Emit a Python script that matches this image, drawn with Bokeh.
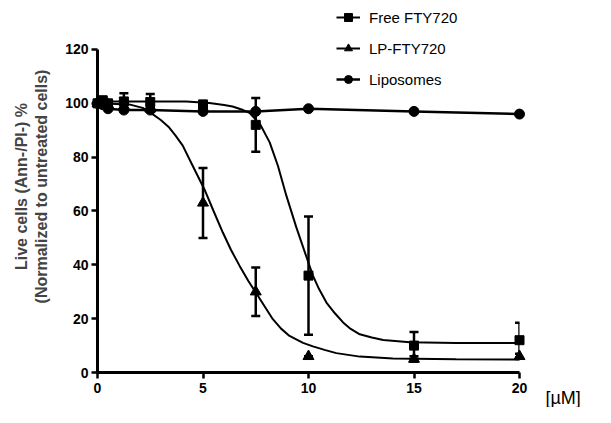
from bokeh.plotting import figure
from bokeh.models import ColumnDataSource, Whisker, Legend, LegendItem, FixedTicker
from bokeh.core.properties import value
from bokeh.embed import file_html
from bokeh.resources import INLINE

# ---- data ----
dose = [0, 0.25, 0.5, 1.25, 2.5, 5, 7.5, 10, 15, 20]

free_mean = [100, 101, 100, 100.7, 100.5, 99.5, 92, 36, 10, 12]
free_err = [1, 1.5, 1, 3, 3, 1.5, 10, 22, 5, 6.5]

lp_mean = [100, 100, 99.5, 99, 98, 63, 30, 6, 5, 6]
lp_err = [1, 1, 1, 1, 1, 13, 9, 0, 1, 1]

lipo_mean = [100, 99.5, 98, 97.5, 97.5, 97, 97, 98, 97, 96]

# fitted dose-response curves
free_fit_x = [0, 4.2, 5.3, 6.0, 6.4, 6.9, 7.2, 7.7, 8.16, 8.55, 8.95, 9.42, 9.9,
              10.21, 10.5, 10.85, 11.25, 11.64, 12.0, 12.43, 13.0, 13.54, 14.8, 17, 20]
free_fit_y = [100.7, 100.7, 100.1, 99.4, 98.8, 97.5, 96.5, 92.3, 85.5, 76.8, 65.7, 54, 43,
              36, 31, 26, 22, 18.6, 16.2, 14.2, 13, 12.1, 11.2, 11, 11]

lp_fit_x = [0, 1.5, 2.14, 2.61, 3.0, 3.4, 3.7, 4.04, 4.51, 5.07, 5.5, 5.94, 6.33, 6.73,
            7.15, 7.6, 8.31, 8.7, 9.1, 9.74, 10.21, 10.8, 11.32, 12.43, 14, 17, 20]
lp_fit_y = [100, 99.6, 98.3, 96, 93.8, 91, 88, 84.3, 76.8, 68, 60, 52, 45.5, 39.7,
            34, 28.5, 19.8, 16.3, 13.6, 11.0, 9.7, 8.3, 7.2, 5.9, 5.2, 4.9, 4.8]

x_ticks = [0, 5, 10, 15, 20]
y_ticks = [0, 20, 40, 60, 80, 100, 120]
x_unit = "[µM]"

series_names = ["Free FTY720", "LP-FTY720", "Liposomes"]

FONT = "Liberation Sans"

# frame spans the whole top of the figure so the legend above the axis stays visible;
# the y axis itself is bounded to 0..120
p = figure(width=595, height=407, output_backend="svg", toolbar_location=None,
           x_range=(0, 20), y_range=(0, 138.2),
           min_border_left=97, min_border_right=76, min_border_top=0, min_border_bottom=35)
p.outline_line_color = None
p.xgrid.visible = False
p.ygrid.visible = False
p.background_fill_color = "white"

# axes
for ax in (p.xaxis[0], p.yaxis[0]):
    ax.axis_line_width = 3
    ax.axis_line_color = "black"
    ax.major_tick_line_width = 2.5
    ax.major_tick_out = 6
    ax.major_tick_in = 0
    ax.minor_tick_out = 0
    ax.minor_tick_in = 0
    ax.major_label_text_font = FONT
    ax.major_label_text_font_style = "bold"
    ax.major_label_text_font_size = "14px"
    ax.major_label_text_color = "black"
p.xaxis[0].ticker = FixedTicker(ticks=x_ticks)
p.yaxis[0].ticker = FixedTicker(ticks=y_ticks)
p.yaxis[0].bounds = (y_ticks[0], y_ticks[-1])
p.xaxis[0].major_label_standoff = 4
p.yaxis[0].major_label_standoff = 3

p.yaxis[0].axis_label = "Live cells (Ann-/PI-) %\n(Normalized to untreated cells)"
p.yaxis[0].axis_label_text_font = FONT
p.yaxis[0].axis_label_text_font_style = "bold"
p.yaxis[0].axis_label_text_font_size = "16px"
p.yaxis[0].axis_label_standoff = 12

src = ColumnDataSource(dict(
    x=dose,
    free=free_mean, free_lo=[m - e for m, e in zip(free_mean, free_err)],
    free_hi=[m + e for m, e in zip(free_mean, free_err)],
    lp=lp_mean, lp_lo=[m - e for m, e in zip(lp_mean, lp_err)],
    lp_hi=[m + e for m, e in zip(lp_mean, lp_err)],
    lipo=lipo_mean,
))
free_fit = ColumnDataSource(dict(x=free_fit_x, y=free_fit_y))
lp_fit = ColumnDataSource(dict(x=lp_fit_x, y=lp_fit_y))

# error bars
for lo, hi in (("free_lo", "free_hi"), ("lp_lo", "lp_hi")):
    w = Whisker(source=src, base="x", lower=lo, upper=hi, line_width=2.5, line_color="black",
                level="overlay")
    w.upper_head.size = 9
    w.lower_head.size = 9
    w.upper_head.line_width = 2.5
    w.lower_head.line_width = 2.5
    p.add_layout(w)

# lines
l_free = p.line("x", "y", source=free_fit, line_width=2, color="black", level="overlay")
l_lp = p.line("x", "y", source=lp_fit, line_width=2, color="black", level="overlay")
l_lipo = p.line("x", "lipo", source=src, line_width=2.5, color="black", level="overlay")

# markers
m_free = p.scatter("x", "free", source=src, marker="square", size=9, color="black", level="overlay")
m_lp = p.scatter("x", "lp", source=src, marker="triangle", size=11, color="black", level="overlay")
m_lipo = p.scatter("x", "lipo", source=src, marker="circle", size=10, color="black", level="overlay")

legend = Legend(items=[
    LegendItem(label=series_names[0], renderers=[l_free, m_free]),
    LegendItem(label=series_names[1], renderers=[l_lp, m_lp]),
    LegendItem(label=series_names[2], renderers=[l_lipo, m_lipo]),
], location=(239, 283), orientation="vertical")
legend.background_fill_alpha = 0
legend.border_line_alpha = 0
legend.padding = 0
legend.margin = 0
legend.spacing = 11
legend.glyph_height = 20
legend.glyph_width = 24
legend.label_height = 20
legend.label_standoff = 9
legend.label_text_font = FONT
legend.label_text_font_size = "15px"
legend.label_text_color = "black"
p.add_layout(legend, "center")

# unit label next to the last x tick
p.text(x=[x_ticks[-1]], y=[y_ticks[0]], text=[x_unit], x_offset=26, y_offset=25,
       text_font=value(FONT), text_font_size="18px", text_color="black",
       text_baseline="middle", text_align="left", level="overlay")

open("out.html", "w").write(file_html(p, INLINE))
